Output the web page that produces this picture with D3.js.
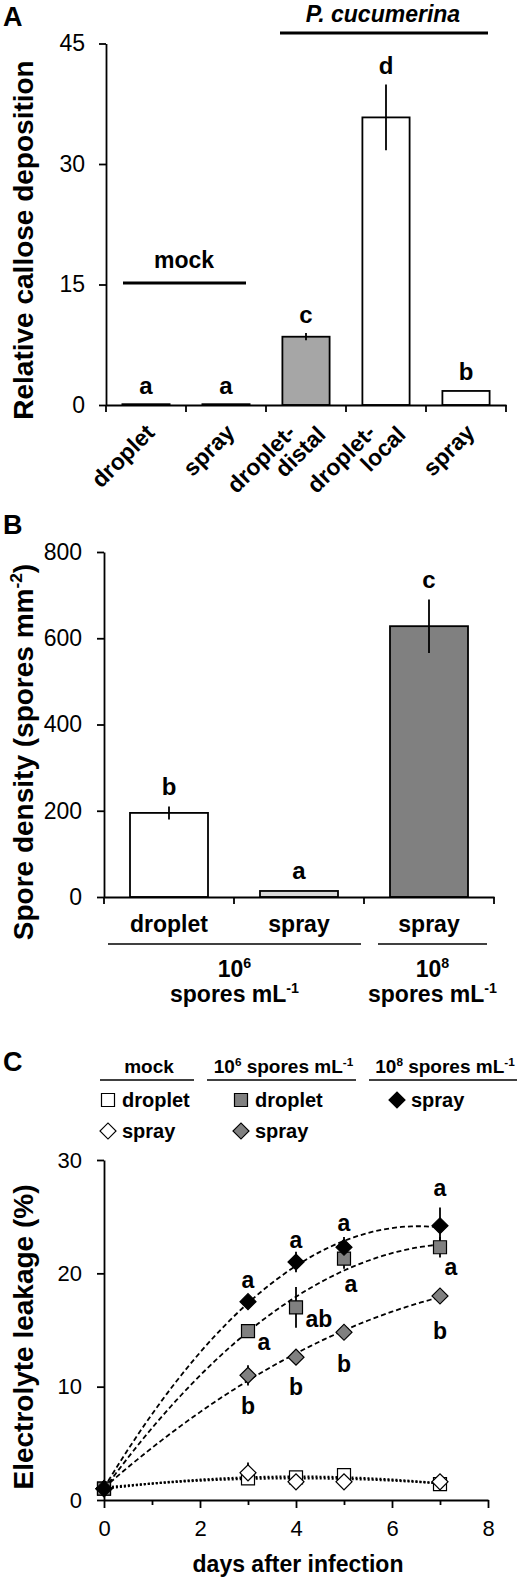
<!doctype html>
<html>
<head>
<meta charset="utf-8">
<script src="https://d3js.org/d3.v7.min.js"></script>
<style>
body { margin: 0; background: #fff; }
svg text { font-family: "Liberation Sans", Arial, sans-serif; fill: #000; }
.axis path, .axis line { stroke: #000; stroke-width: 1.8px; }
</style>
</head>
<body>
<script>

// ---------- panel A : callose ----------
var aKeys    = ["mockDroplet", "mockSpray", "pcDistal", "pcLocal", "pcSpray"];
var aLabels  = [["droplet"], ["spray"], ["droplet-", "distal"], ["droplet-", "local"], ["spray"]];
var aValues  = [0.1, 0.1, 8.5, 35.8, 1.75];
var aErrors  = [0, 0, 0.45, 4.1, 0.1];
var aLetters = ["a", "a", "c", "d", "b"];
var aFills   = ["#fff", "#fff", "#a6a6a6", "#fff", "#fff"];
var aTicks   = [0, 15, 30, 45];

// ---------- panel B : spore density ----------
var bKeys    = ["d6", "s6", "s8"];
var bLabels  = ["droplet", "spray", "spray"];
var bValues  = [195, 14, 628];
var bErrors  = [15, 2, 62];
var bLetters = ["b", "a", "c"];
var bFills   = ["#fff", "#d9d9d9", "#808080"];
var bTicks   = [0, 200, 400, 600, 800];
var bGroups  = [[["10",0],["6",1]], [["10",0],["8",1]]];

// ---------- panel C : electrolyte leakage ----------
var days = [0, 3, 4, 5, 7];
var mockDroplet    = [1.0, 1.9, 2.0, 2.2, 1.4];
var mockDropletErr = [0, 0.3, 0.2, 0.2, 0.2];
var mockSpray      = [1.0, 2.4, 1.6, 1.6, 1.6];
var mockSprayErr   = [0, 0.9, 0.2, 0.2, 0.2];
var pc6Droplet     = [1.0, 14.9, 17.0, 21.3, 22.3];
var pc6DropletErr  = [0, 0.5, 1.8, 0.9, 0.9];
var pc6Spray       = [1.0, 11.0, 12.6, 14.8, 18.0];
var pc6SprayErr    = [0, 0.9, 0.3, 0.3, 0.3];
var pc8Spray       = [1.0, 17.5, 21.0, 22.3, 24.2];
var pc8SprayErr    = [0, 0.4, 0.9, 0.9, 1.6];
var pc6DropletLetters = ["", "a", "ab", "a", "a"];
var pc6SprayLetters   = ["", "b", "b", "b", "b"];
var pc8SprayLetters   = ["", "a", "a", "a", "a"];
var cYTicks = [0, 10, 20, 30];
var cXTicks = [0, 1, 2, 3, 4, 5, 6, 7, 8];

var FONT = '"Liberation Sans", Arial, sans-serif';

var svg = d3.select("body").append("svg")
    .attr("width", 520)
    .attr("height", 1581);

// write text made of [string, isSuperscript] parts
function rich(sel, parts, fs) {
  var up = 0;
  parts.forEach(function(p) {
    var t = sel.append("tspan").text(p[0]);
    if (p[1]) {
      t.attr("font-size", fs * 0.62).attr("dy", -fs * 0.38);
      up = fs * 0.38;
    } else {
      if (up) t.attr("dy", up);
      up = 0;
    }
  });
  return sel;
}

function styleAxis(g, fs) {
  g.attr("font-family", null).attr("font-size", null);
  g.selectAll("text").attr("font-size", fs).attr("font-family", FONT);
}

function errorBar(g, x, y1, y2) {
  g.append("line").attr("x1", x).attr("x2", x).attr("y1", y1).attr("y2", y2)
    .attr("stroke", "#000").attr("stroke-width", 1.8);
}

// ================= A =================
var xA = d3.scaleBand().domain(aKeys).range([106, 506]);
var yA = d3.scaleLinear().domain([0, 45]).range([405, 43.5]);
var gA = svg.append("g");

gA.append("text").attr("x", 3).attr("y", 26).attr("font-size", 27)
  .attr("font-weight", "bold").text("A");

gA.append("g").attr("class", "axis").attr("transform", "translate(106,0)")
  .call(d3.axisLeft(yA).tickValues(aTicks).tickSize(7).tickSizeOuter(0).tickPadding(14))
  .call(styleAxis, 23);

var bwA = xA.bandwidth() * 0.59;
aKeys.forEach(function(k, i) {
  var cx = xA(k) + xA.bandwidth() / 2;
  gA.append("rect")
    .attr("x", cx - bwA / 2).attr("width", bwA)
    .attr("y", yA(aValues[i])).attr("height", yA(0) - yA(aValues[i]))
    .attr("fill", aFills[i]).attr("stroke", "#000").attr("stroke-width", 1.8);
  if (aErrors[i] > 0.2) errorBar(gA, cx, yA(aValues[i] + aErrors[i]), yA(aValues[i] - aErrors[i]));
  gA.append("text").attr("x", cx).attr("y", yA(aValues[i] + aErrors[i]) - 10)
    .attr("text-anchor", "middle").attr("font-size", 24).attr("font-weight", "bold")
    .text(aLetters[i]);
  // rotated category labels
  var lines = aLabels[i];
  var pos = lines.length === 1 ? [[cx + 10, 434]] : [[cx - 9, 434], [cx + 21, 436]];
  lines.forEach(function(s, j) {
    gA.append("text")
      .attr("transform", "translate(" + pos[j][0] + "," + pos[j][1] + ") rotate(-45)")
      .attr("text-anchor", "end").attr("font-size", 23).attr("font-weight", "bold")
      .text(s);
  });
});

gA.append("g").attr("class", "axis").attr("transform", "translate(0,405)")
  .call(d3.axisBottom(xA).tickSize(0).tickSizeOuter(0).tickFormat(""));
aKeys.map(function(k) { return xA(k); }).concat([xA.range()[1]]).forEach(function(x) {
  gA.append("line").attr("x1", x).attr("x2", x).attr("y1", 405).attr("y2", 412)
    .attr("stroke", "#000").attr("stroke-width", 1.8);
});

gA.append("text").attr("transform", "translate(33,240) rotate(-90)")
  .attr("text-anchor", "middle").attr("font-size", 28).attr("font-weight", "bold")
  .text("Relative callose deposition");

// group headers
gA.append("line").attr("x1", 123).attr("x2", 246).attr("y1", 283).attr("y2", 283)
  .attr("stroke", "#000").attr("stroke-width", 2.8);
gA.append("text").attr("x", 184).attr("y", 268).attr("text-anchor", "middle")
  .attr("font-size", 23).attr("font-weight", "bold").text("mock");
gA.append("line").attr("x1", 280).attr("x2", 488).attr("y1", 33).attr("y2", 33)
  .attr("stroke", "#000").attr("stroke-width", 2.8);
gA.append("text").attr("x", 383).attr("y", 22).attr("text-anchor", "middle")
  .attr("font-size", 23).attr("font-weight", "bold").attr("font-style", "italic")
  .text("P. cucumerina");

// ================= B =================
var xB = d3.scaleBand().domain(bKeys).range([104, 494]);
var yB = d3.scaleLinear().domain([0, 800]).range([897, 552]);
var gB = svg.append("g");

gB.append("text").attr("x", 3).attr("y", 534).attr("font-size", 27)
  .attr("font-weight", "bold").text("B");

gB.append("g").attr("class", "axis").attr("transform", "translate(104,0)")
  .call(d3.axisLeft(yB).tickValues(bTicks).tickSize(7).tickSizeOuter(0).tickPadding(15))
  .call(styleAxis, 23);

var bwB = xB.bandwidth() * 0.6;
bKeys.forEach(function(k, i) {
  var cx = xB(k) + xB.bandwidth() / 2;
  gB.append("rect")
    .attr("x", cx - bwB / 2).attr("width", bwB)
    .attr("y", yB(bValues[i])).attr("height", yB(0) - yB(bValues[i]))
    .attr("fill", bFills[i]).attr("stroke", "#000").attr("stroke-width", 1.8);
  if (bErrors[i] > 5) errorBar(gB, cx, yB(bValues[i] + bErrors[i]), yB(bValues[i] - bErrors[i]));
  gB.append("text").attr("x", cx).attr("y", yB(bValues[i] + bErrors[i]) - 11)
    .attr("text-anchor", "middle").attr("font-size", 24).attr("font-weight", "bold")
    .text(bLetters[i]);
  gB.append("text").attr("x", cx).attr("y", 932).attr("text-anchor", "middle")
    .attr("font-size", 23).attr("font-weight", "bold").text(bLabels[i]);
});

gB.append("g").attr("class", "axis").attr("transform", "translate(0,897)")
  .call(d3.axisBottom(xB).tickSize(0).tickSizeOuter(0).tickFormat(""));
bKeys.map(function(k) { return xB(k); }).concat([xB.range()[1]]).forEach(function(x) {
  gB.append("line").attr("x1", x).attr("x2", x).attr("y1", 897).attr("y2", 904)
    .attr("stroke", "#000").attr("stroke-width", 1.8);
});

gB.append("text").attr("transform", "translate(33,752) rotate(-90)")
  .attr("text-anchor", "middle").attr("font-size", 28).attr("font-weight", "bold")
  .call(rich, [["Spore density (spores mm", 0], ["-2", 1], [")", 0]], 28);

// concentration groups under the axis
var bSpans = [[108, 361], [378, 487]];
bGroups.forEach(function(parts, i) {
  var cx = (bSpans[i][0] + bSpans[i][1]) / 2;
  gB.append("line").attr("x1", bSpans[i][0]).attr("x2", bSpans[i][1])
    .attr("y1", 944).attr("y2", 944).attr("stroke", "#000").attr("stroke-width", 1.6);
  gB.append("text").attr("x", cx).attr("y", 977).attr("text-anchor", "middle")
    .attr("font-size", 23).attr("font-weight", "bold").call(rich, parts, 23);
  gB.append("text").attr("x", cx).attr("y", 1002).attr("text-anchor", "middle")
    .attr("font-size", 23).attr("font-weight", "bold")
    .call(rich, [["spores mL", 0], ["-1", 1]], 23);
});

// ================= C =================
var xC = d3.scaleLinear().domain([0, 8]).range([104, 488]);
var yC = d3.scaleLinear().domain([0, 30]).range([1500, 1160]);
var gC = svg.append("g");

gC.append("text").attr("x", 3).attr("y", 1071).attr("font-size", 27)
  .attr("font-weight", "bold").text("C");

gC.append("g").attr("class", "axis").attr("transform", "translate(104,0)")
  .call(d3.axisLeft(yC).tickValues(cYTicks).tickSize(7).tickSizeOuter(0).tickPadding(15))
  .call(styleAxis, 22);

var xAxC = gC.append("g").attr("class", "axis").attr("transform", "translate(0,1500)")
  .call(d3.axisBottom(xC).tickValues(cXTicks).tickSize(8).tickSizeOuter(0).tickPadding(12)
    .tickFormat(function(d) { return d % 2 === 0 ? d : ""; }))
  .call(styleAxis, 22);
xAxC.selectAll(".tick line").attr("y2", function(d) { return d % 2 === 0 ? 8 : 5; });

gC.append("text").attr("transform", "translate(33,1337) rotate(-90)")
  .attr("text-anchor", "middle").attr("font-size", 28).attr("font-weight", "bold")
  .text("Electrolyte leakage (%)");
gC.append("text").attr("x", 298).attr("y", 1572).attr("text-anchor", "middle")
  .attr("font-size", 23).attr("font-weight", "bold").text("days after infection");

// 2nd order polynomial trend line, least squares
function quadFit(xs, ys) {
  var S = [0, 0, 0, 0, 0], T = [0, 0, 0];
  xs.forEach(function(x, i) {
    for (var k = 0; k < 5; k++) S[k] += Math.pow(x, k);
    for (var k2 = 0; k2 < 3; k2++) T[k2] += ys[i] * Math.pow(x, k2);
  });
  var M = [[S[0], S[1], S[2]], [S[1], S[2], S[3]], [S[2], S[3], S[4]]];
  function det(m) {
    return m[0][0] * (m[1][1] * m[2][2] - m[1][2] * m[2][1])
         - m[0][1] * (m[1][0] * m[2][2] - m[1][2] * m[2][0])
         + m[0][2] * (m[1][0] * m[2][1] - m[1][1] * m[2][0]);
  }
  var D = det(M);
  return [0, 1, 2].map(function(c) {
    var m = M.map(function(r, ri) { return r.map(function(v, ci) { return ci === c ? T[ri] : v; }); });
    return det(m) / D;
  });
}

var sqSym = d3.symbol(d3.symbolSquare, 169);
var diaSym = d3.symbol(d3.symbolSquare, 128);

var series = [
  { v: mockDroplet, e: mockDropletErr, shape: "square", fill: "#fff", dash: "2,2", letters: null },
  { v: mockSpray, e: mockSprayErr, shape: "diamond", fill: "#fff", dash: "2,2", letters: null },
  { v: pc6Spray, e: pc6SprayErr, shape: "diamond", fill: "#808080", dash: "5,3", letters: pc6SprayLetters,
    off: [[0, 0], [0, 31], [0, 30], [0, 32], [0, 35]] },
  { v: pc6Droplet, e: pc6DropletErr, shape: "square", fill: "#808080", dash: "5,3", letters: pc6DropletLetters,
    off: [[0, 0], [16, 11], [23, 12], [7, 25], [11, 20]] },
  { v: pc8Spray, e: pc8SprayErr, shape: "diamond", fill: "#000", dash: "5,3", letters: pc8SprayLetters,
    off: [[0, 0], [0, -22], [0, -22], [0, -24], [0, -38]] }
];

var trend = d3.line()
  .x(function(d) { return xC(d[0]); })
  .y(function(d) { return yC(d[1]); });

series.forEach(function(s) {
  var c = quadFit(days, s.v);
  var pts = d3.range(0, 7.001, 0.1).map(function(x) { return [x, c[0] + c[1] * x + c[2] * x * x]; });
  gC.append("path").attr("d", trend(pts)).attr("fill", "none")
    .attr("stroke", "#000").attr("stroke-width", s.dash === "5,3" ? 1.8 : 2.2)
    .attr("stroke-dasharray", s.dash);
});

series.forEach(function(s) {
  days.forEach(function(d, i) {
    if (s.e[i] > 0) errorBar(gC, xC(d), yC(s.v[i] + s.e[i]), yC(s.v[i] - s.e[i]));
  });
});

function marker(g, shape, fill, x, y) {
  g.append("path")
    .attr("d", shape === "square" ? sqSym() : diaSym())
    .attr("transform", "translate(" + x + "," + y + ")" + (shape === "diamond" ? " rotate(45)" : ""))
    .attr("fill", fill).attr("stroke", "#000").attr("stroke-width", 1.2);
}

series.forEach(function(s) {
  days.forEach(function(d, i) { marker(gC, s.shape, s.fill, xC(d), yC(s.v[i])); });
});

series.forEach(function(s) {
  if (!s.letters) return;
  days.forEach(function(d, i) {
    if (!s.letters[i]) return;
    gC.append("text").attr("x", xC(d) + s.off[i][0]).attr("y", yC(s.v[i]) + s.off[i][1])
      .attr("dominant-baseline", "central").attr("text-anchor", "middle")
      .attr("font-size", 23).attr("font-weight", "bold").text(s.letters[i]);
  });
});

// legend
var legendHeads = [
  { parts: [["mock", 0]], x1: 100, x2: 194 },
  { parts: [["10", 0], ["6", 1], [" spores mL", 0], ["-1", 1]], x1: 207, x2: 356 },
  { parts: [["10", 0], ["8", 1], [" spores mL", 0], ["-1", 1]], x1: 369, x2: 517 }
];
var legendItems = [
  { head: 0, row: 0, shape: "square", fill: "#fff", label: "droplet" },
  { head: 0, row: 1, shape: "diamond", fill: "#fff", label: "spray" },
  { head: 1, row: 0, shape: "square", fill: "#808080", label: "droplet" },
  { head: 1, row: 1, shape: "diamond", fill: "#808080", label: "spray" },
  { head: 2, row: 0, shape: "diamond", fill: "#000", label: "spray" }
];
var legendX = [108, 241, 397];
var legendRowY = [1100, 1131];

legendHeads.forEach(function(h) {
  gC.append("line").attr("x1", h.x1).attr("x2", h.x2).attr("y1", 1080).attr("y2", 1080)
    .attr("stroke", "#000").attr("stroke-width", 1.6);
  gC.append("text").attr("x", (h.x1 + h.x2) / 2 + 2).attr("y", 1073).attr("text-anchor", "middle")
    .attr("font-size", 19).attr("font-weight", "bold").call(rich, h.parts, 19);
});
legendItems.forEach(function(it) {
  var x = legendX[it.head], y = legendRowY[it.row];
  marker(gC, it.shape, it.fill, x, y);
  gC.append("text").attr("x", x + 14).attr("y", y + 7)
    .attr("font-size", 20).attr("font-weight", "bold").text(it.label);
});

</script>
</body>
</html>
